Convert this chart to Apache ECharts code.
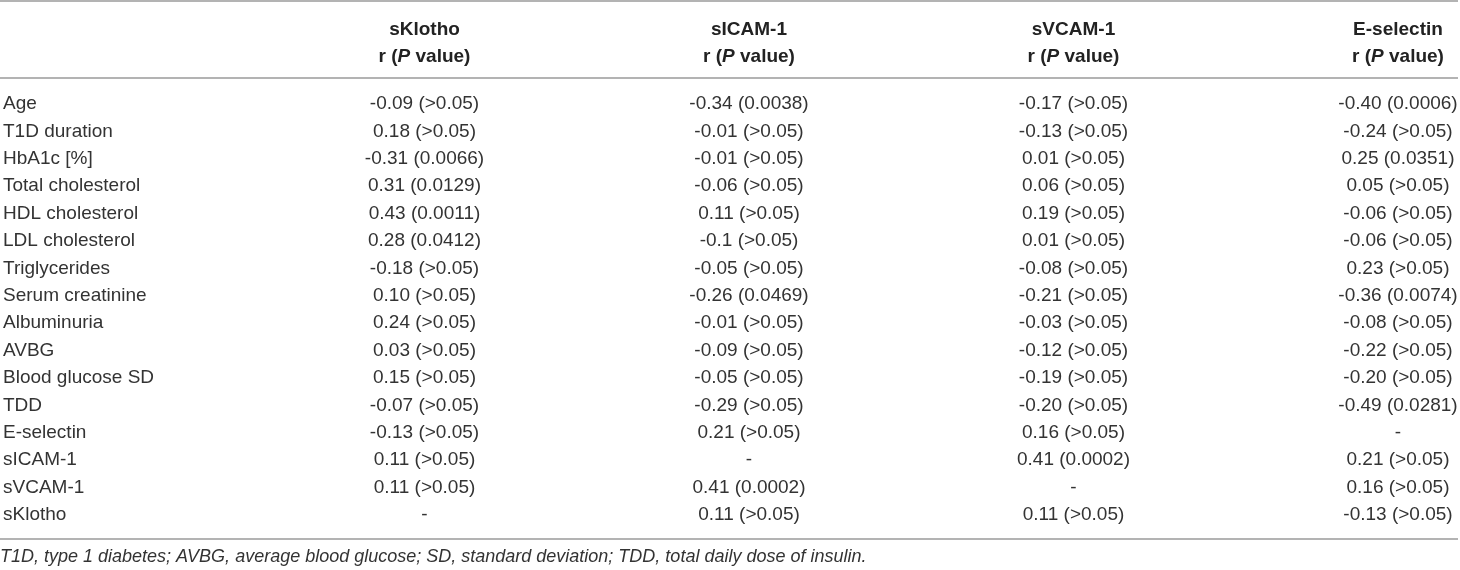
<!DOCTYPE html>
<html>
<head>
<meta charset="utf-8">
<script src="https://cdn.jsdelivr.net/npm/echarts/dist/echarts.min.js"></script>
<style>
  html, body { margin: 0; padding: 0; background: #fff; }
  #main { width: 1460px; height: 570px; }
</style>
</head>
<body>
<div id="main"></div>
<script>
// row names of the table
var rowNames = ['Age', 'T1D duration', 'HbA1c [%]', 'Total cholesterol', 'HDL cholesterol',
  'LDL cholesterol', 'Triglycerides', 'Serum creatinine', 'Albuminuria', 'AVBG',
  'Blood glucose SD', 'TDD', 'E-selectin', 'sICAM-1', 'sVCAM-1', 'sKlotho'];

// column headers
var colNames = ['sKlotho', 'sICAM-1', 'sVCAM-1', 'E-selectin'];

// r values (null = '-')
var sKlothoR = ['-0.09', '0.18', '-0.31', '0.31', '0.43', '0.28', '-0.18', '0.10', '0.24', '0.03', '0.15', '-0.07', '-0.13', '0.11', '0.11', null];
var sICAMR = ['-0.34', '-0.01', '-0.01', '-0.06', '0.11', '-0.1', '-0.05', '-0.26', '-0.01', '-0.09', '-0.05', '-0.29', '0.21', null, '0.41', '0.11'];
var sVCAMR = ['-0.17', '-0.13', '0.01', '0.06', '0.19', '0.01', '-0.08', '-0.21', '-0.03', '-0.12', '-0.19', '-0.20', '0.16', '0.41', null, '0.11'];
var eSelR = ['-0.40', '-0.24', '0.25', '0.05', '-0.06', '-0.06', '0.23', '-0.36', '-0.08', '-0.22', '-0.20', '-0.49', null, '0.21', '0.16', '-0.13'];

// P values
var sKlothoP = ['>0.05', '>0.05', '0.0066', '0.0129', '0.0011', '0.0412', '>0.05', '>0.05', '>0.05', '>0.05', '>0.05', '>0.05', '>0.05', '>0.05', '>0.05', null];
var sICAMP = ['0.0038', '>0.05', '>0.05', '>0.05', '>0.05', '>0.05', '>0.05', '0.0469', '>0.05', '>0.05', '>0.05', '>0.05', '>0.05', null, '0.0002', '>0.05'];
var sVCAMP = ['>0.05', '>0.05', '>0.05', '>0.05', '>0.05', '>0.05', '>0.05', '>0.05', '>0.05', '>0.05', '>0.05', '>0.05', '>0.05', '0.0002', null, '>0.05'];
var eSelP = ['0.0006', '>0.05', '0.0351', '>0.05', '>0.05', '>0.05', '>0.05', '0.0074', '>0.05', '>0.05', '>0.05', '0.0281', null, '>0.05', '>0.05', '>0.05'];

var footnote = 'T1D, type 1 diabetes; AVBG, average blood glucose; SD, standard deviation; TDD, total daily dose of insulin.';

var rCols = [sKlothoR, sICAMR, sVCAMR, eSelR];
var pCols = [sKlothoP, sICAMP, sVCAMP, eSelP];

var font = 'Liberation Sans, Arial, sans-serif';
var textColor = '#333';
var ruleColor = '#9a9a9a';

// build cell list: [column (1..4), row index]
var cells = [];
var cellText = [];
rCols.forEach(function (col, c) {
  col.forEach(function (r, i) {
    cells.push([c + 1, i]);
    cellText.push(r === null ? '-' : r + ' (' + pCols[c][i] + ')');
  });
});

var chart = echarts.init(document.getElementById('main'));

var opt = {
  animation: false,
  title: {
    text: footnote,
    left: 0,
    top: 548,
    padding: 0,
    textStyle: {
      fontFamily: font,
      fontStyle: 'italic',
      fontWeight: 'normal',
      fontSize: 18,
      color: textColor
    }
  },
  grid: {
    left: 98,
    right: 62,
    top: 90.3,
    bottom: 41.3
  },
  xAxis: {
    type: 'value',
    position: 'top',
    min: 0,
    max: 4,
    interval: 1,
    axisLine: { show: false },
    axisTick: { show: false },
    splitLine: { show: false },
    axisLabel: {
      margin: 20,
      showMinLabel: true,
      showMaxLabel: true,
      formatter: function (v) {
        var name = colNames[v - 1];
        if (!name) return '';
        return '{b|' + name + '}\n{b|r (}{i|P}{b| value)}';
      },
      rich: {
        b: { fontFamily: font, fontWeight: 'bold', fontSize: 19, lineHeight: 27, color: '#222' },
        i: { fontFamily: font, fontWeight: 'bold', fontStyle: 'italic', fontSize: 19, lineHeight: 27, color: '#222' }
      }
    }
  },
  yAxis: {
    type: 'category',
    inverse: true,
    data: rowNames,
    axisLine: { show: false },
    axisTick: { show: false },
    axisLabel: {
      align: 'left',
      margin: 97,
      fontFamily: font,
      fontSize: 19,
      color: textColor
    }
  },
  graphic: [
    { type: 'line', shape: { x1: 0, y1: 1, x2: 1458, y2: 1 }, style: { stroke: ruleColor, lineWidth: 1.5 } },
    { type: 'line', shape: { x1: 0, y1: 78, x2: 1458, y2: 78 }, style: { stroke: ruleColor, lineWidth: 1.5 } },
    { type: 'line', shape: { x1: 0, y1: 539, x2: 1458, y2: 539 }, style: { stroke: ruleColor, lineWidth: 1.5 } }
  ],
  series: [
    {
      type: 'custom',
      data: cells,
      encode: { x: 0, y: 1 },
      renderItem: function (params, api) {
        var p = api.coord([api.value(0), api.value(1)]);
        return {
          type: 'text',
          x: p[0],
          y: p[1],
          style: {
            text: cellText[params.dataIndex],
            align: 'center',
            verticalAlign: 'middle',
            fontFamily: font,
            fontSize: 19,
            fill: textColor
          }
        };
      }
    }
  ]
};
chart.setOption(opt);
</script>
</body>
</html>
